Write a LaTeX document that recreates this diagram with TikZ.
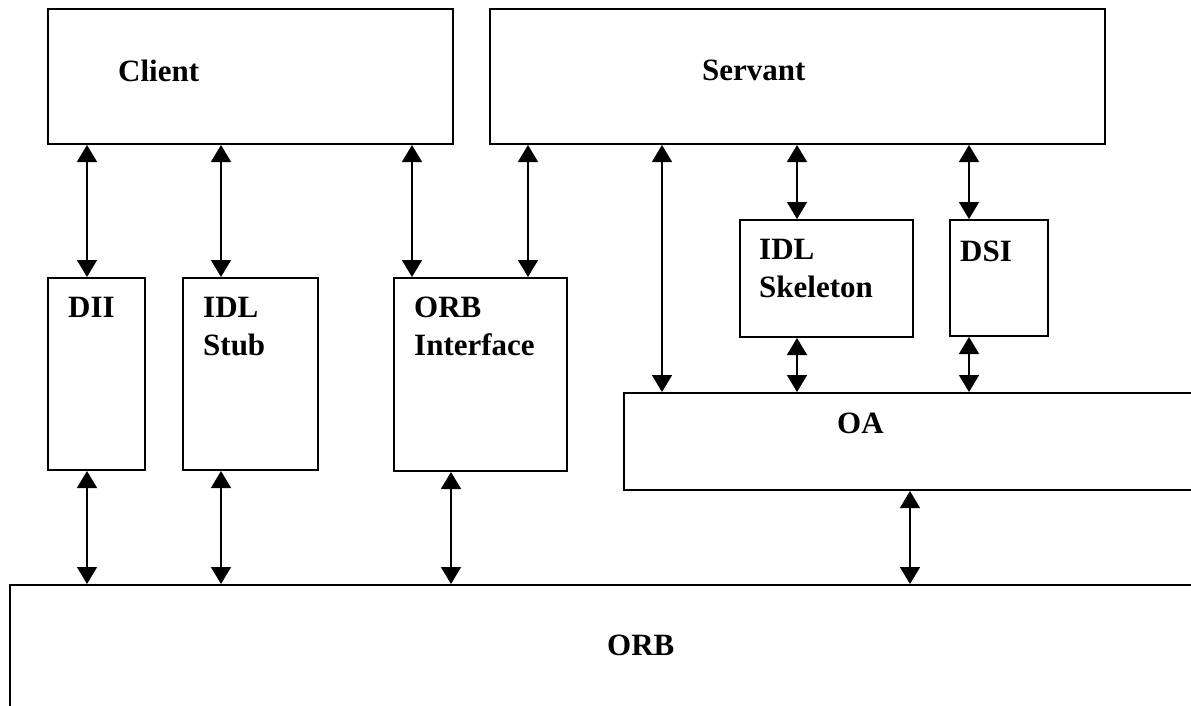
\documentclass[tikz,border=0pt]{standalone}
\usepackage{fontspec}
\setmainfont{Liberation Serif}
\usetikzlibrary{arrows.meta}
\begin{document}
\begin{tikzpicture}[x=1pt,y=1pt,
  box/.style={draw,line width=2pt,inner sep=0pt,anchor=north west},
  lbl/.style={font=\fontsize{31}{37.5}\selectfont\bfseries,inner sep=0pt,anchor=base west,align=left},
  link/.style={line width=1.5pt,{Triangle[width=20pt,length=17pt]}-{Triangle[width=20pt,length=17pt]}}]
\useasboundingbox (0,0) rectangle (1191,-705);
\clip (0,0) rectangle (1191,-705);
\fill[white] (0,0) rectangle (1191,-705);
% boxes
\node[box,minimum width=405pt,minimum height=135pt] (client) at (47,-8) {};
\node[box,minimum width=615pt,minimum height=135pt] (servant) at (489,-8) {};
\node[box,minimum width=97pt,minimum height=192pt] (dii) at (47,-277) {};
\node[box,minimum width=135pt,minimum height=192pt] (stub) at (182,-277) {};
\node[box,minimum width=173pt,minimum height=193pt] (orbi) at (393,-277) {};
\node[box,minimum width=173pt,minimum height=117pt] (skel) at (739,-219) {};
\node[box,minimum width=98pt,minimum height=116pt] (dsi) at (949,-219) {};
\node[box,minimum width=620pt,minimum height=97pt] (oa) at (623,-392) {};
\node[box,minimum width=1230pt,minimum height=160pt] (orb) at (9,-584) {};
% labels (base = baseline of last line)
\node[lbl] (tclient) at (118,-81) {Client};
\node[lbl] (tservant) at (702,-80) {Servant};
\node[lbl] (tdii) at (68,-317) {DII};
\node[lbl] (tstub) at (203,-355) {IDL\\Stub};
\node[lbl] (torbi) at (414,-355) {ORB\\Interface};
\node[lbl] (tskel) at (759,-297) {IDL\\Skeleton};
\node[lbl] (tdsi) at (960,-261) {DSI};
\node[lbl] (toa) at (837,-433) {OA};
\node[lbl] (torb) at (607,-655) {ORB};
% connectors
\draw[link] (87,0 |- client.south) -- (87,0 |- dii.north);
\draw[link] (221,0 |- client.south) -- (221,0 |- stub.north);
\draw[link] (412,0 |- client.south) -- (412,0 |- orbi.north);
\draw[link] (528,0 |- servant.south) -- (528,0 |- orbi.north);
\draw[link] (662,0 |- servant.south) -- (662,0 |- oa.north);
\draw[link] (797,0 |- servant.south) -- (797,0 |- skel.north);
\draw[link] (969,0 |- servant.south) -- (969,0 |- dsi.north);
\draw[link] (797,0 |- skel.south) -- (797,0 |- oa.north);
\draw[link] (969,0 |- dsi.south) -- (969,0 |- oa.north);
\draw[link] (87,0 |- dii.south) -- (87,0 |- orb.north);
\draw[link] (221,0 |- stub.south) -- (221,0 |- orb.north);
\draw[link] (451,0 |- orbi.south) -- (451,0 |- orb.north);
\draw[link] (910,0 |- oa.south) -- (910,0 |- orb.north);
\end{tikzpicture}
\end{document}
